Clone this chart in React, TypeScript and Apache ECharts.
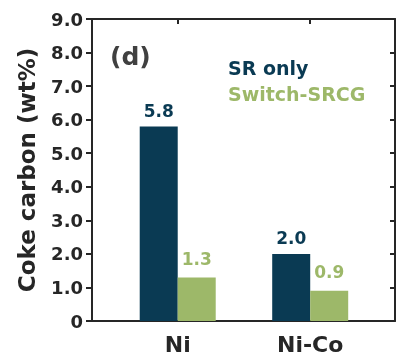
import React, { useEffect, useRef } from "react";
import * as echarts from "echarts";

const categories = ["Ni", "Ni-Co"];
const srOnly = [5.8, 2.0];
const switchSrcg = [1.3, 0.9];
const yTicks = [0, 1, 2, 3, 4, 5, 6, 7, 8, 9];

const DARK = "#0a3a53";
const GREEN = "#9db869";
const AXIS = "#262626";
const FONT = "'DejaVu Sans', 'Liberation Sans', Arial, sans-serif";

export default function App() {
  const ref = useRef<HTMLDivElement>(null);

  useEffect(() => {
    if (!ref.current) return;
    const chart = echarts.init(ref.current, undefined, { renderer: "svg" });
    const positions = categories.map((_, i) => i + 1);
    const xMin = 0.353;
    const xMax = 2.64;

    chart.setOption({
      animation: false,
      textStyle: { fontFamily: FONT },
      grid: { left: 92, right: 2, top: 19, bottom: 35, outerBoundsMode: "none" },
      legend: {
        orient: "vertical",
        left: 218,
        top: 53,
        icon: "none",
        itemWidth: 0,
        itemHeight: 14,
        itemGap: 7,
        selectedMode: false,
        data: [
          { name: "SR only", textStyle: { color: DARK } },
          { name: "Switch-SRCG", textStyle: { color: GREEN } },
        ],
        textStyle: { fontSize: 19, fontWeight: "bold", fontFamily: FONT },
      },
      graphic: [
        {
          type: "text",
          left: 110,
          top: 44,
          style: {
            text: "(d)",
            fontSize: 25,
            fontWeight: "bold",
            fontFamily: FONT,
            fill: "#404040",
          },
        },
      ],
      xAxis: [
        {
          type: "value",
          min: xMin,
          max: xMax,
          position: "bottom",
          axisLine: { show: true, onZero: false, lineStyle: { color: AXIS, width: 2 } },
          axisTick: { show: false },
          splitLine: { show: false },
          axisLabel: {
            customValues: positions,
            formatter: (v: number) => categories[Math.round(v) - 1] ?? "",
            color: AXIS,
            fontSize: 22,
            fontWeight: "bold",
            fontFamily: FONT,
            margin: 12,
          },
        },
        {
          type: "value",
          min: xMin,
          max: xMax,
          position: "top",
          axisLine: { show: true, onZero: false, lineStyle: { color: AXIS, width: 2 } },
          axisTick: {
            show: true,
            inside: true,
            length: 5,
            customValues: positions,
            lineStyle: { color: AXIS, width: 2 },
          },
          axisLabel: { show: false },
          splitLine: { show: false },
        },
      ],
      yAxis: [
        {
          type: "value",
          min: 0,
          max: 9,
          interval: 1,
          position: "left",
          name: "Coke carbon (wt%)",
          nameLocation: "middle",
          nameGap: 54,
          nameTextStyle: {
            fontSize: 23,
            fontWeight: "bold",
            color: AXIS,
            fontFamily: FONT,
          },
          axisLine: { show: true, onZero: false, lineStyle: { color: AXIS, width: 2 } },
          axisTick: { show: true, length: 6, lineStyle: { color: AXIS, width: 2 } },
          splitLine: { show: false },
          axisLabel: {
            customValues: yTicks,
            formatter: (v: number) => (v === 0 ? "0" : v.toFixed(1)),
            color: AXIS,
            fontSize: 18,
            fontWeight: "bold",
            fontFamily: FONT,
            margin: 9,
          },
        },
        {
          type: "value",
          min: 0,
          max: 9,
          interval: 1,
          position: "right",
          axisLine: { show: true, onZero: false, lineStyle: { color: AXIS, width: 2 } },
          axisTick: { show: true, inside: true, length: 5, lineStyle: { color: AXIS, width: 2 } },
          axisLabel: { show: false },
          splitLine: { show: false },
        },
      ],
      series: [
        {
          name: "SR only",
          type: "bar",
          xAxisIndex: 0,
          yAxisIndex: 0,
          barWidth: 38,
          barGap: "0%",
          itemStyle: { color: DARK },
          label: {
            show: true,
            position: "top",
            distance: 7,
            color: DARK,
            fontSize: 17,
            fontWeight: "bold",
            fontFamily: FONT,
            formatter: (p: any) => p.value[1].toFixed(1),
          },
          data: positions.map((x, i) => [x, srOnly[i]]),
        },
        {
          name: "Switch-SRCG",
          type: "bar",
          xAxisIndex: 0,
          yAxisIndex: 0,
          barWidth: 38,
          barGap: "0%",
          itemStyle: { color: GREEN },
          label: {
            show: true,
            position: "top",
            distance: 10,
            color: GREEN,
            fontSize: 17,
            fontWeight: "bold",
            fontFamily: FONT,
            formatter: (p: any) => p.value[1].toFixed(1),
          },
          data: positions.map((x, i) => [x, switchSrcg[i]]),
        },
      ],
    });

    return () => chart.dispose();
  }, []);

  return <div ref={ref} style={{ width: 397, height: 356, position: "fixed", left: 0, top: 0 }} />;
}
